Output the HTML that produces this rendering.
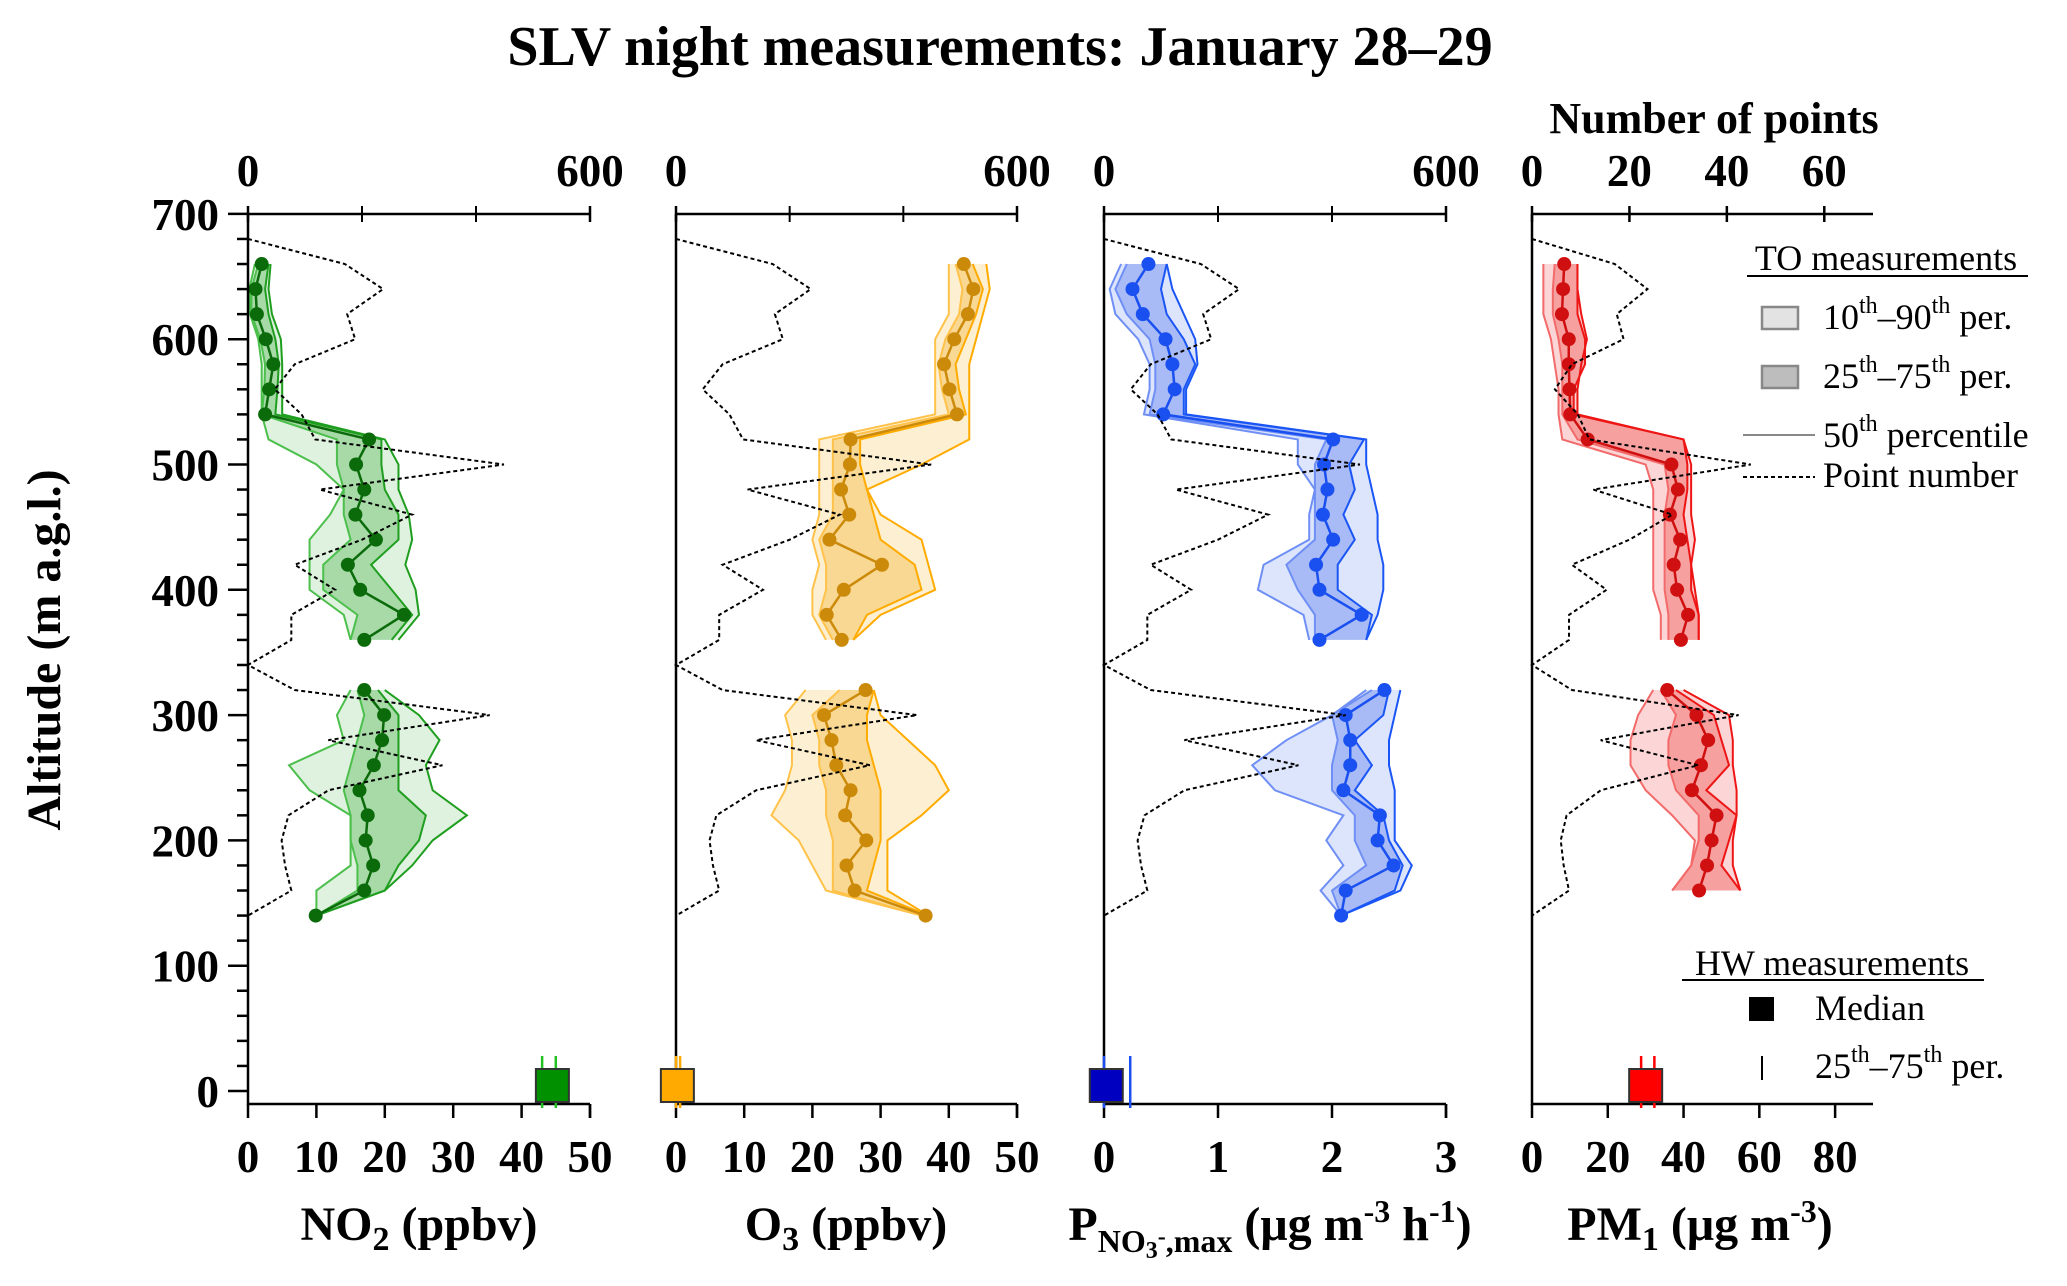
<!DOCTYPE html>
<html><head><meta charset="utf-8"><style>
html,body{margin:0;padding:0;background:#fff}
svg, svg text{font-family:"Liberation Serif","Times New Roman",serif}
.b{font-weight:bold}
</style></head><body>
<svg id="chart" width="2067" height="1281" viewBox="0 0 2067 1281" xmlns="http://www.w3.org/2000/svg" font-family="Liberation Serif, serif">
<text x="1000" y="65" text-anchor="middle" class="b" font-size="56">SLV night measurements: January 28–29</text>
<text x="1714" y="133" text-anchor="middle" class="b" font-size="44">Number of points</text>
<text transform="translate(60,650) rotate(-90)" text-anchor="middle" class="b" font-size="48">Altitude (m a.g.l.)</text>
<g id="plots"></g>
<g>
<text x="1886" y="270" text-anchor="middle" font-size="36">TO measurements</text>
<line x1="1747" y1="276" x2="2028" y2="276" stroke="#000" stroke-width="2"/>
<rect x="1762" y="307" width="36" height="22" fill="#e3e3e3" stroke="#888" stroke-width="2.5"/>
<text x="1823" y="329" font-size="36">10<tspan dy="-16" font-size="24">th</tspan><tspan dy="16">–90</tspan><tspan dy="-16" font-size="24">th</tspan><tspan dy="16"> per.</tspan></text>
<rect x="1762" y="366" width="36" height="22" fill="#bdbdbd" stroke="#888" stroke-width="2.5"/>
<text x="1823" y="388" font-size="36">25<tspan dy="-16" font-size="24">th</tspan><tspan dy="16">–75</tspan><tspan dy="-16" font-size="24">th</tspan><tspan dy="16"> per.</tspan></text>
<line x1="1743" y1="435" x2="1815" y2="435" stroke="#888" stroke-width="2"/>
<text x="1823" y="447" font-size="36">50<tspan dy="-16" font-size="24">th</tspan><tspan dy="16"> percentile</tspan></text>
<line x1="1743" y1="477" x2="1815" y2="477" stroke="#000" stroke-width="2" stroke-dasharray="4,3"/>
<text x="1823" y="487" font-size="36">Point number</text>
</g>
<g>
<text x="1832" y="975" text-anchor="middle" font-size="36">HW measurements</text>
<line x1="1682" y1="980" x2="1984" y2="980" stroke="#000" stroke-width="2"/>
<rect x="1749" y="997" width="25" height="24" fill="#000"/>
<text x="1815" y="1020" font-size="36">Median</text>
<line x1="1762" y1="1056" x2="1762" y2="1080" stroke="#000" stroke-width="2"/>
<text x="1815" y="1078" font-size="36">25<tspan dy="-16" font-size="24">th</tspan><tspan dy="16">–75</tspan><tspan dy="-16" font-size="24">th</tspan><tspan dy="16"> per.</tspan></text>
</g>
</svg>
<script>
// altitude levels
const altUpper = [660,640,620,600,580,560,540,520,500,480,460,440,420,400,380,360];
const altLower = [320,300,280,260,240,220,200,180,160,140];
const altLowerPM = [320,300,280,260,240,220,200,180,160];
// point number profile
const pnAlt = [680,660,640,620,600,580,560,540,520,500,480,460,440,420,400,380,360,340,320,300,280,260,240,220,200,180,160,140];
const pnCount = [0,170,237,174,188,82,47,94,118,449,126,288,200,82,153,76,76,0,82,424,141,341,141,71,59,65,76,0];
// NO2
const no2Med = [2.0,1.1,1.3,2.6,3.7,3.1,2.5,17.7,15.8,17.0,15.7,18.7,14.6,16.4,22.8,17.0, 17.0,19.9,19.6,18.4,16.3,17.5,17.2,18.3,17.0,9.9];
const no2P25 = [1.5,0.5,0.5,1.8,2.5,2.4,2,13,13,14,14,15,11,11,16,15, 16,17,16,15,14,15,15,16,16,10];
const no2P75 = [3,2.5,3,4,4.5,4.3,4,19.5,19.5,20,22,22,18,21,24,21, 19,22,22,22,22,26,25,22,20,10];
const no2P10 = [1,0.2,0.3,1.5,2,2,2,3,10,14,12,9,9,9,14,15, 15,13,14,6,9,15,15,15,10,10];
const no2P90 = [3.3,3,3.5,4.8,5,5,5,20,22,22,23.5,24,23,24.5,25,22, 20,25,28,26,27,32,27,24,20,10];
// O3
const o3Med = [42.2,43.6,42.8,40.8,39.3,40.1,41.2,25.6,25.5,24.2,25.4,22.5,30.2,24.6,22.1,24.3, 27.8,21.7,22.8,23.5,25.6,24.8,27.9,25,26.2,36.6];
const o3P25 = [41,42,41.5,39.5,38.5,39,40,23,23,23,23,21,22,22,21,23, 24,20,21,21,22,22,23,23,23,36];
const o3P75 = [43.5,45,44,42.5,41,41.5,42.5,27,27,28,29,30,35,36,28,26, 29,28,28,29,30,30,30,29,28,37];
const o3P10 = [40,40,40,38,38,38,38,21,21,21,21,20,21,20,20,22, 19,16,17,17,16,14,18,20,22,36];
const o3P90 = [45.5,46,45,44,43,43,43,43,36,28,30,36,37,38,30,26, 29,30,34,38,40,36,31,31,31,37];
// P NO3 max
const pnMed = [0.39,0.25,0.34,0.54,0.60,0.62,0.52,2.01,1.93,1.96,1.92,2.01,1.86,1.89,2.26,1.89, 2.46,2.12,2.16,2.16,2.10,2.42,2.40,2.54,2.12,2.08];
const pnP25 = [0.2,0.1,0.2,0.4,0.45,0.45,0.4,1.95,1.85,1.85,1.85,1.85,1.6,1.7,1.85,1.85, 2.35,2.0,2.05,2.0,2.0,2.2,2.2,2.3,2.0,2.08];
const pnP75 = [0.55,0.5,0.55,0.7,0.8,0.7,0.7,2.28,2.15,2.2,2.1,2.2,2.05,2.05,2.35,2.3, 2.5,2.45,2.2,2.35,2.2,2.45,2.5,2.62,2.55,2.08];
const pnP10 = [0.15,0.05,0.1,0.3,0.4,0.4,0.35,1.7,1.7,1.85,1.8,1.8,1.4,1.35,1.75,1.8, 2.3,2.0,1.6,1.3,1.5,2.1,1.95,2.1,1.9,2.08];
const pnP90 = [0.55,0.6,0.7,0.8,0.82,0.72,0.72,2.3,2.3,2.35,2.4,2.4,2.45,2.45,2.4,2.3, 2.6,2.55,2.5,2.5,2.55,2.55,2.55,2.7,2.6,2.08];
// PM1
const pmMed = [8.5,8.2,7.9,9.7,9.7,9.9,10.1,14.7,36.8,38.5,36.4,39.1,37.4,38.3,41.2,39.3, 35.7,43.4,46.5,44.6,42.2,48.7,47.4,46.2,44.1];
const pmP25 = [6,5.5,5.5,7,8,8,8,12,35,36,35,35,35,35,36,36, 34,38,36,36,38,44,44,42,37];
const pmP75 = [12,12,12,14,14,11,11,40,41,41,40,41,42,42,44,44, 38,48,50,52,46,54,52,50,55];
const pmP10 = [3,3,3,5,6,7,7,8,30,32,32,32,32,32,34,34, 32,28,26,26,30,37,43,42,37];
const pmP90 = [12,12,13,14.5,13,12,12,40,42,42,42,43,42,43,44,44, 40,52,53,53,54,54,53,53,55];
// HW medians and quartiles
const hwMed = [44.5, 0.2, 0.02, 30];
const hwQ25 = [43, 0, 0, 28.8];
const hwQ75 = [45, 0.6, 0.23, 32.3];
// tick labels
const ticksA = [0,10,20,30,40,50];
const ticksB = [0,1,2,3];
const ticksC = [0,20,40,60,80];
const ticksPts = [0,20,40,60];
const altTicks = [0,100,200,300,400,500,600,700];

const NS='http://www.w3.org/2000/svg';
const root=document.getElementById('plots');
const Y0=1091, PXM=1.253, AXB=1104, AXT=214;
function yA(a){return Y0-a*PXM;}
function el(tag,attrs,parent){const e=document.createElementNS(NS,tag);for(const k in attrs)e.setAttribute(k,attrs[k]);if(tag==='text')e.setAttribute('font-family','Liberation Serif, serif');(parent||root).appendChild(e);return e;}

const panels=[
 {key:'no2',x0:248,x1:590,max:50,ticks:ticksA,top:600,topT:[0,600],topMinor:[200,400],med:no2Med,p25:no2P25,p75:no2P75,p10:no2P10,p90:no2P90,low:altLower,
  pt:'#0b6b0b',ln:'#1f9e1f',ln2:'#4cbf4c',b1:'#dff2df',b2:'#9ed69e',hw:'#009000',hwl:'#22c022',title:'NO<tspan dy="10" font-size="34">2</tspan><tspan dy="-10"> (ppbv)</tspan>',tx:419},
 {key:'o3',x0:676,x1:1017,max:50,ticks:ticksA,top:600,topT:[0,600],topMinor:[200,400],med:o3Med,p25:o3P25,p75:o3P75,p10:o3P10,p90:o3P90,low:altLower,
  pt:'#cc8a0a',ln:'#ffab00',ln2:'#ffc24a',b1:'#fdf0d2',b2:'#f8d488',hw:'#ffaa00',hwl:'#ffaa00',title:'O<tspan dy="10" font-size="34">3</tspan><tspan dy="-10"> (ppbv)</tspan>',tx:846},
 {key:'pno3',x0:1104,x1:1446,max:3,ticks:ticksB,top:600,topT:[0,600],topMinor:[200,400],med:pnMed,p25:pnP25,p75:pnP75,p10:pnP10,p90:pnP90,low:altLower,
  pt:'#1a4ff0',ln:'#1a55f5',ln2:'#6f8ff5',b1:'#dde5fc',b2:'#9fb4f4',hw:'#0000c0',hwl:'#1a4ff0',title:'P<tspan dy="12" font-size="32">NO<tspan dy="6" font-size="24">3</tspan><tspan dy="-14" font-size="24">-</tspan><tspan dy="8">,max</tspan></tspan><tspan dy="-12"> (μg m</tspan><tspan dy="-18" font-size="32">-3</tspan><tspan dy="18"> h</tspan><tspan dy="-18" font-size="32">-1</tspan><tspan dy="18">)</tspan>',tx:1270},
 {key:'pm1',x0:1532,x1:1873,max:90,ticks:ticksC,top:70,topT:ticksPts,topMinor:[],med:pmMed,p25:pmP25,p75:pmP75,p10:pmP10,p90:pmP90,low:altLowerPM,
  pt:'#d01010',ln:'#ee1515',ln2:'#f26a6a',b1:'#fcd6d6',b2:'#f49696',hw:'#ff0000',hwl:'#ff0000',title:'PM<tspan dy="10" font-size="34">1</tspan><tspan dy="-10"> (μg m</tspan><tspan dy="-18" font-size="32">-3</tspan><tspan dy="18">)</tspan>',tx:1700}
];

panels.forEach((p,pi)=>{
  const g=el('g',{});
  
  
  const xs=v=>p.x0+(v/p.max)*(p.x1-p.x0);
  const xTop=v=>p.x0+(v/p.top)*(p.x1-p.x0);
  const cnt=c=>pi===3?xTop(c/10):xTop(c);
  const segs=[altUpper,p.low];
  let idx=0;
  segs.forEach((alts)=>{
    const s=idx, n=alts.length; idx+=n;
    const sl=a=>a.slice(s,s+n);
    const m=sl(p.med),a25=sl(p.p25),a75=sl(p.p75),a10=sl(p.p10),a90=sl(p.p90);
    const poly=(lo,hi)=>lo.map((v,i)=>xs(v)+','+yA(alts[i])).concat(hi.map((v,i)=>xs(v)+','+yA(alts[i])).reverse()).join(' ');
    const b1=el('polygon',{points:poly(a10,a90),fill:p.b1,stroke:'none'},g);
    
    
    const b2=el('polygon',{points:poly(a25,a75),fill:p.b2,'fill-opacity':0.85,stroke:'none'},g);
    
    
    [[a10,p.ln2],[a90,p.ln],[a25,p.ln2],[a75,p.ln]].forEach(([arr,c])=>{
      const l=el('polyline',{points:arr.map((v,i)=>xs(v)+','+yA(alts[i])).join(' '),fill:'none',stroke:c,'stroke-width':2},g);
      
      
    });
    const ml=el('polyline',{points:m.map((v,i)=>xs(v)+','+yA(alts[i])).join(' '),fill:'none',stroke:p.pt,'stroke-width':2.5},g);
    
    
    m.forEach((v,i)=>{
      const c=el('circle',{cx:xs(v),cy:yA(alts[i]),r:7,fill:p.pt},g);
      
      
    });
  });
  const pl=el('polyline',{points:pnCount.map((c,i)=>cnt(c)+','+yA(pnAlt[i])).join(' '),fill:'none',stroke:'#000','stroke-width':2,'stroke-dasharray':'4,3'},g);
  
  
  const ax=el('path',{d:`M${p.x0},${AXT} V${AXB} H${p.x1} M${p.x0},${AXT} H${p.x1}`,stroke:'#000','stroke-width':2.5,fill:'none'},g);
  
  
  p.ticks.forEach(t=>{
    el('line',{x1:xs(t),x2:xs(t),y1:AXB,y2:AXB+14,stroke:'#000','stroke-width':2.5},g);
    const tx=el('text',{x:xs(t),y:1172,'text-anchor':'middle','font-size':45,'font-weight':'bold'},g);
    tx.textContent=t;
    
    
  });
  if(pi<3) el('line',{x1:p.x1,x2:p.x1,y1:AXB,y2:AXB+14,stroke:'#000','stroke-width':2.5},g);
  p.topT.forEach(t=>{
    el('line',{x1:xTop(t),x2:xTop(t),y1:AXT-8,y2:AXT+8,stroke:'#000','stroke-width':2.5},g);
    const tx=el('text',{x:xTop(t),y:186,'text-anchor':'middle','font-size':45,'font-weight':'bold'},g);
    tx.textContent=t;
    
    
  });
  p.topMinor.forEach(t=>el('line',{x1:xTop(t),x2:xTop(t),y1:AXT-8,y2:AXT+8,stroke:'#000','stroke-width':2},g));
  const tt=el('text',{x:p.tx,y:1240,'text-anchor':'middle','font-size':48,'font-weight':'bold'},g);
  tt.innerHTML=p.title;
  
  
  const yc=1086;
  [hwQ25[pi],hwQ75[pi]].forEach(q=>{
    const l=el('line',{x1:xs(q),x2:xs(q),y1:yc-30,y2:yc+22,stroke:p.hwl,'stroke-width':2.5},g);
    
    
  });
  const sq=el('rect',{x:xs(hwMed[pi])-16.5,y:yc-17,width:33,height:33,fill:p.hw,stroke:'#333','stroke-width':2},g);
  
  
});
const ya=el('g',{});


for(let a=0;a<=700;a+=20){
  const major=a%100===0;
  el('line',{x1:major?228:237,x2:248,y1:yA(a),y2:yA(a),stroke:'#000','stroke-width':2.5},ya);
}
altTicks.forEach(a=>{
  const t=el('text',{x:219,y:yA(a)+16,'text-anchor':'end','font-size':45,'font-weight':'bold'},ya);
  t.textContent=a;
  
  
});
</script>
</body></html>
